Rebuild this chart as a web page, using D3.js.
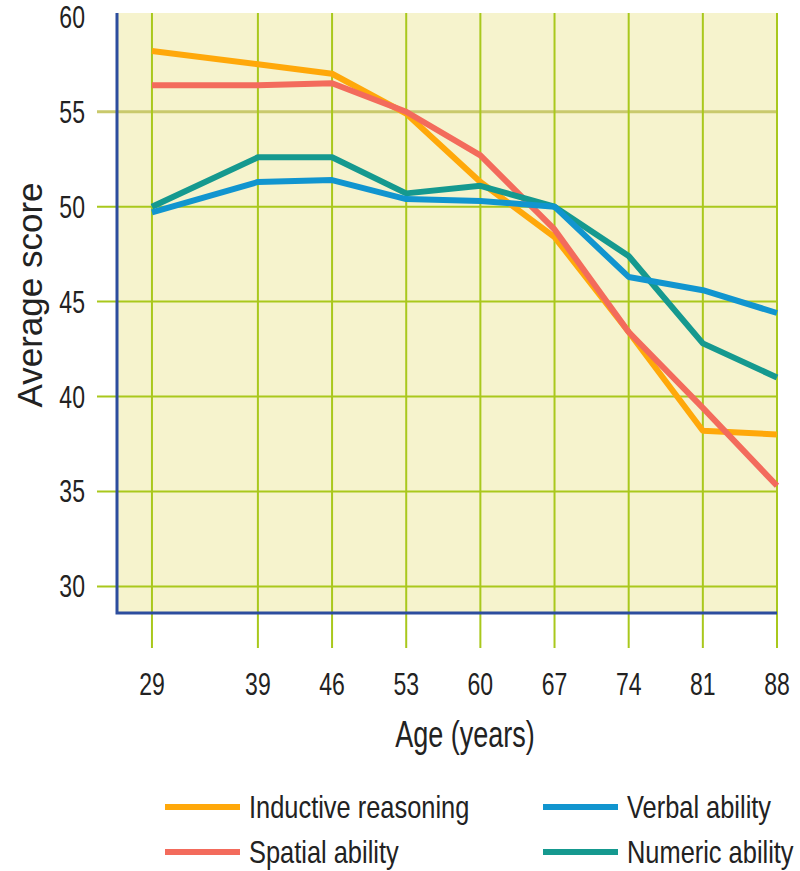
<!DOCTYPE html>
<html>
<head>
<meta charset="utf-8">
<script src="https://cdn.jsdelivr.net/npm/d3@7"></script>
<style>
  body { margin: 0; background: #fff; }
  svg { display: block; }
</style>
</head>
<body>
<div id="chart"></div>
<script>
// data
var ages = [29, 39, 46, 53, 60, 67, 74, 81, 88];
var yTicks = [30, 35, 40, 45, 50, 55, 60];
var inductive = [58.2, 57.5, 57.0, 54.9, 51.3, 48.4, 43.4, 38.2, 38.0];
var spatial   = [56.4, 56.4, 56.5, 55.0, 52.7, 48.8, 43.4, 39.4, 35.3];
var verbal    = [49.7, 51.3, 51.4, 50.4, 50.3, 50.0, 46.3, 45.6, 44.4];
var numeric   = [50.0, 52.6, 52.6, 50.7, 51.1, 50.0, 47.4, 42.8, 41.0];

var series = [
    { name: "Inductive reasoning", values: inductive, color: "#ffa80a" },
    { name: "Spatial ability", values: spatial, color: "#f36b5c" },
    { name: "Numeric ability", values: numeric, color: "#15998f" },
    { name: "Verbal ability", values: verbal, color: "#1195cf" }
];

var width = 800,
    height = 871;

var plot = { left: 117, right: 777, top: 13, bottom: 613 };

var font = '"Liberation Sans", Arial, sans-serif';

var x = d3.scaleLinear().domain([25.7, 88]).range([plot.left, plot.right]);
var y = d3.scaleLinear().domain([28.6, 60.2]).range([plot.bottom, plot.top]);

var svg = d3.select("#chart").append("svg")
    .attr("width", width)
    .attr("height", height);

// no condensed font installed, so squeeze regular text sideways
var squeeze = (px, py, k) => `translate(${px},${py}) scale(${k},1)`;

// plot background
svg.append("rect")
    .attr("x", plot.left)
    .attr("y", plot.top)
    .attr("width", plot.right - plot.left)
    .attr("height", plot.bottom - plot.top)
    .attr("fill", "#f6f3cd");

// horizontal grid, sticking out left of the axis
svg.append("g")
    .selectAll("line")
    .data(yTicks.filter(d => d < 60))
    .join("line")
    .attr("x1", 97)
    .attr("x2", plot.right)
    .attr("y1", d => y(d))
    .attr("y2", d => y(d))
    .attr("stroke", d => d == 55 ? "#c9c96c" : "#a9c81c")
    .attr("stroke-width", d => d == 55 ? 3 : 2);

// vertical grid, running below the plot as ticks
svg.append("g")
    .selectAll("line")
    .data(ages)
    .join("line")
    .attr("x1", d => x(d))
    .attr("x2", d => x(d))
    .attr("y1", plot.top)
    .attr("y2", 648)
    .attr("stroke", "#a9c81c")
    .attr("stroke-width", 2);

// blue axis lines
svg.append("path")
    .attr("d", `M${plot.left},${plot.top}V${plot.bottom}H${plot.right}`)
    .attr("fill", "none")
    .attr("stroke", "#2d4d9e")
    .attr("stroke-width", 3);

// tick labels
svg.append("g")
    .attr("font-family", font)
    .attr("font-size", 32)
    .attr("fill", "#222")
    .attr("text-anchor", "end")
    .selectAll("text")
    .data(yTicks)
    .join("text")
    .attr("transform", d => squeeze(85, y(d) + 11, 0.72))
    .text(d => d);

svg.append("g")
    .attr("font-family", font)
    .attr("font-size", 32)
    .attr("fill", "#222")
    .attr("text-anchor", "middle")
    .selectAll("text")
    .data(ages)
    .join("text")
    .attr("transform", d => squeeze(x(d), 695, 0.72))
    .text(d => d);

// axis titles
svg.append("text")
    .attr("transform", squeeze(465, 747, 0.75))
    .attr("text-anchor", "middle")
    .attr("font-family", font)
    .attr("font-size", 36)
    .attr("fill", "#222")
    .text("Age (years)");

svg.append("text")
    .attr("transform", "translate(42,295) rotate(-90)")
    .attr("text-anchor", "middle")
    .attr("font-family", font)
    .attr("font-size", 35)
    .attr("fill", "#222")
    .text("Average score");

// lines
var line = d3.line()
    .x((d, i) => x(ages[i]))
    .y(d => y(d));

svg.append("g")
    .attr("fill", "none")
    .attr("stroke-width", 6)
    .attr("stroke-linejoin", "round")
    .selectAll("path")
    .data(series)
    .join("path")
    .attr("stroke", d => d.color)
    .attr("d", d => line(d.values));

// legend
var legendItems = [
    { s: series[0], lx: 165, ly: 807 },
    { s: series[1], lx: 165, ly: 852 },
    { s: series[3], lx: 543, ly: 807 },
    { s: series[2], lx: 543, ly: 852 }
];

var legend = svg.append("g")
    .selectAll("g")
    .data(legendItems)
    .join("g")
    .attr("transform", d => `translate(${d.lx},${d.ly})`);

legend.append("line")
    .attr("x1", 0)
    .attr("x2", 75)
    .attr("stroke", d => d.s.color)
    .attr("stroke-width", 6);

legend.append("text")
    .attr("transform", squeeze(84, 11, 0.82))
    .attr("font-family", font)
    .attr("font-size", 31)
    .attr("fill", "#222")
    .text(d => d.s.name);
</script>
</body>
</html>
